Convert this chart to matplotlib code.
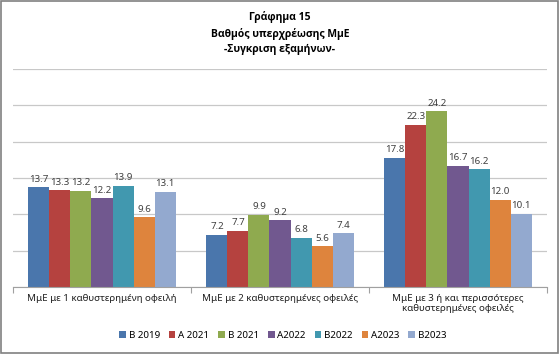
import numpy as np
import matplotlib.pyplot as plt

plt.rcParams['font.family'] = ['Noto Sans', 'DejaVu Sans']

categories = ['ΜμΕ με 1 καθυστερημένη οφειλή',
              'ΜμΕ με 2 καθυστερημένες οφειλές',
              'ΜμΕ με 3 ή και περισσότερες\nκαθυστερημένες οφειλές']
series = ['B 2019', 'A 2021', 'B 2021', 'A2022', 'B2022', 'A2023', 'B2023']
b2019 = [13.7, 7.2, 17.8]
a2021 = [13.3, 7.7, 22.3]
b2021 = [13.2, 9.9, 24.2]
a2022 = [12.2, 9.2, 16.7]
b2022 = [13.9, 6.8, 16.2]
a2023 = [9.6, 5.6, 12.0]
b2023 = [13.1, 7.4, 10.1]
values = [b2019, a2021, b2021, a2022, b2022, a2023, b2023]
colors = ['#4A76AC', '#B5423F', '#8FAA4F', '#71588F', '#4198AF', '#DE843D', '#93A9CF']
title = 'Γράφημα 15\nΒαθμός υπερχρέωσης ΜμΕ\n-Συγκριση εξαμήνων-'

fig = plt.figure(figsize=(5.6, 3.54), dpi=100)
ax = fig.add_axes([13/560, 1-287/354, 534/560, 218/354])

x = np.arange(len(categories))
w = 0.118
for i, (name, vals) in enumerate(zip(series, values)):
    pos = x + (i - 3) * w
    ax.bar(pos, vals, w, color=colors[i], label=name, zorder=2)
    for p, v in zip(pos, vals):
        ax.text(p, v + 0.5, '%.1f' % v, ha='center', va='bottom', fontsize=7, color='#404040')

ax.set_xlim(-0.5, len(categories) - 0.5)
ax.set_ylim(0, 30)
ax.set_yticks(np.arange(0, 31, 5))
ax.yaxis.grid(True, color='#C8C8C8', lw=0.9, zorder=0)
ax.tick_params(axis='y', left=False, labelleft=False)
ax.set_xticks(np.arange(-0.5, len(categories)), minor=False)
ax.set_xticklabels([])
ax.set_xticks(x, minor=True)
ax.set_xticklabels(categories, minor=True, fontsize=7, color='#202020')
ax.tick_params(axis='x', which='major', length=4, color='#A0A0A0')
ax.tick_params(axis='x', which='minor', length=0, pad=5)
for s in ['top', 'right', 'left']:
    ax.spines[s].set_visible(False)
ax.spines['bottom'].set_color('#A0A0A0')

fig.text(0.5, 1-33/354, title, ha='center', va='center', fontsize=7.5, fontweight='bold',
         family=['Open Sans', 'DejaVu Sans'], linespacing=1.5)
fig.legend(loc='center', bbox_to_anchor=(0.505, 1-335/354), ncol=7, frameon=False,
           fontsize=7, handlelength=0.7, handleheight=0.7, handletextpad=0.3,
           columnspacing=0.9)

fig.add_artist(plt.Rectangle((0.002, 0.003), 0.995, 0.994, transform=fig.transFigure,
                             fill=False, ec='#808080', lw=1.2))
fig.savefig('out.png', dpi=100)
